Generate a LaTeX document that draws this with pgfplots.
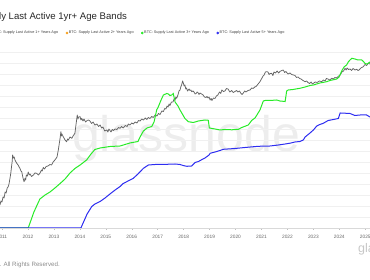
\documentclass[border=0pt]{standalone}
\usepackage{pgfplots}
\pgfplotsset{compat=1.18}
\usepackage{fontspec}
\setmainfont{Liberation Sans}
\definecolor{gnGreen}{RGB}{40,235,40}
\definecolor{gnBlue}{RGB}{45,45,240}
\definecolor{gnGray}{RGB}{100,100,100}
\definecolor{gnOrange}{RGB}{247,160,30}
\definecolor{gnFirst}{RGB}{120,120,120}
\begin{document}
\begin{tikzpicture}
% big watermark
\node[anchor=base, text=black!7, font=\fontsize{50}{50}\selectfont] at (186pt,128pt) {glassnode};
\begin{axis}[
  at={(0pt,52pt)}, anchor=south west,
  scale only axis, width=370pt, height=183pt,
  xmin=2010.923, xmax=2025.181, ymin=0, ymax=183,
  axis x line*=bottom, axis y line*=left,
  y axis line style={draw=none},
  x axis line style={draw=black!15},
  ytick={0,11,...,176}, yticklabels={}, ytick style={draw=none},
  ymajorgrids, grid style={draw=black!6, line width=0.5pt},
  xtick={2011,...,2025},
  /pgf/number format/1000 sep={},
  /pgf/number format/assume math mode=true,
  tick align=outside, major tick length=2pt,
  xtick style={draw=black!25, line width=0.4pt},
  xticklabel style={font=\fontsize{4.8}{5}\selectfont, text=black!60, yshift=-1.5pt},
  legend columns=-1,
  legend style={draw=none, fill=none, at={(-0.027,1.0656)}, anchor=west,
    font=\fontsize{3.8}{4}\selectfont, inner sep=0pt,
    nodes={inner sep=0.6pt, text=black!75},
    /tikz/every even column/.append style={column sep=6.8pt}},
  legend image code/.code={\fill[#1] (0.6pt,0pt) circle (1.1pt);},
]
\addlegendimage{gnFirst}
\addlegendentry{BTC: Supply Last Active 1+ Years Ago}
\addlegendimage{gnOrange}
\addlegendentry{BTC: Supply Last Active 2+ Years Ago}
\addlegendimage{gnGreen}
\addlegendentry{BTC: Supply Last Active 3+ Years Ago}
\addlegendimage{gnBlue}
\addlegendentry{BTC: Supply Last Active 5+ Years Ago}

% price (gray)
\addplot[forget plot, color=gnGray, line width=0.75pt, line join=round] coordinates {
(2010.92,23)(2010.96,27)(2011.00,26)(2011.04,31)(2011.08,30)(2011.12,36)(2011.16,35)(2011.20,40)(2011.24,41.3)
(2011.27,44)(2011.31,50)(2011.34,55)(2011.37,62)(2011.39,66)(2011.41,73)
(2011.44,70)(2011.47,71)(2011.50,68)(2011.54,66)(2011.57,64.7)(2011.62,63)(2011.66,61)(2011.69,59.7)(2011.73,57)(2011.76,56.3)(2011.81,50)
(2011.85,46.3)(2011.89,49.7)(2011.91,48)(2011.94,53)(2011.98,52)(2012.01,56)(2012.05,53)(2012.08,54)(2012.14,51.5)(2012.21,53)(2012.27,55)(2012.34,54.7)
(2012.40,53)(2012.46,54.7)(2012.52,58)(2012.55,57)(2012.59,60.5)(2012.64,59)(2012.70,61.5)(2012.77,62)(2012.85,63.5)(2012.91,63)(2012.97,66)(2013.04,68)
(2013.12,71)(2013.17,78)(2013.24,90)(2013.27,96.3)(2013.29,92)(2013.31,94)(2013.36,91.3)(2013.43,88)
(2013.49,86.3)(2013.53,89)(2013.56,88)(2013.62,91)(2013.69,89.7)(2013.74,92)(2013.81,94.7)(2013.85,103)(2013.90,113)
(2013.93,109)(2013.95,111)(2014.01,111.3)(2014.04,108)(2014.07,109.7)(2014.12,107)(2014.16,109)(2014.22,106)(2014.28,107.5)(2014.33,108)(2014.39,107)
(2014.45,104.5)(2014.51,106)(2014.58,103)(2014.66,104)(2014.72,101.5)(2014.78,103)(2014.84,100)(2014.89,101)(2014.96,97)(2015.04,98)(2015.08,96)(2015.12,99)(2015.20,96)
(2015.25,98.5)(2015.29,97.5)(2015.36,99)(2015.43,98.5)(2015.49,100.5)(2015.55,99.7)(2015.61,101.5)(2015.67,100)(2015.75,102.5)(2015.82,101.5)(2015.87,104)(2015.93,103)
(2016.00,105)(2016.06,104)(2016.13,106)(2016.20,105)(2016.26,107.5)(2016.32,107)(2016.39,109)(2016.45,108)(2016.52,110)(2016.58,108.5)(2016.64,110.5)(2016.70,109.5)
(2016.77,111.5)(2016.83,110.5)(2016.90,113)(2016.97,112)(2017.03,114.5)(2017.09,113.5)(2017.16,117)(2017.22,116.5)(2017.27,119.5)(2017.32,119)(2017.36,122)(2017.40,121)
(2017.44,124)(2017.47,122.5)(2017.53,126)(2017.59,126)(2017.63,129)(2017.67,128)(2017.70,131)(2017.73,129.7)(2017.78,133)(2017.82,137)(2017.86,138)
(2017.89,141)(2017.92,143)(2017.96,147)(2017.99,144.7)(2018.02,142)(2018.05,143)(2018.08,139)(2018.11,140)(2018.15,137)(2018.18,138)(2018.21,139)(2018.24,137.5)
(2018.28,138)(2018.31,136.3)(2018.36,137)(2018.40,136)(2018.44,134)(2018.48,134.5)(2018.52,136)(2018.55,135.5)(2018.59,133.5)(2018.63,135)(2018.69,134)(2018.75,133)
(2018.80,131)(2018.86,130.5)(2018.90,131.5)(2018.94,130)(2018.98,131)(2019.02,128)(2019.06,129.5)(2019.09,127.5)(2019.15,130)(2019.21,129.5)(2019.26,132)(2019.32,133)
(2019.38,136)(2019.43,134.5)(2019.47,138)(2019.53,136.5)(2019.59,137)(2019.65,139.5)(2019.71,139)(2019.78,136)(2019.85,137.5)(2019.91,135.5)(2019.98,136.5)(2020.04,137.5)(2020.09,136)
(2020.15,137)(2020.21,134.5)(2020.25,133.5)(2020.30,135)(2020.35,137)(2020.40,136)(2020.48,137.5)(2020.56,138)(2020.62,140)(2020.68,139.5)(2020.74,141)(2020.79,141.5)
(2020.87,144)(2020.94,146.3)(2021.02,150)(2021.06,152)(2021.10,153)(2021.15,156)(2021.20,156.3)(2021.25,156)
(2021.29,153.5)(2021.33,154.5)(2021.39,154.7)(2021.44,152.5)(2021.48,156)(2021.54,155)(2021.60,157)(2021.66,155)(2021.71,156.5)(2021.78,157.5)(2021.84,158)
(2021.89,155.5)(2021.94,156.5)(2022.02,154)(2022.10,155)(2022.16,153.5)(2022.23,153)(2022.29,152.5)(2022.35,150.5)(2022.41,151)(2022.47,149.5)(2022.52,149)
(2022.60,147.5)(2022.68,146.3)(2022.74,147)(2022.79,145.5)(2022.85,144.5)(2022.91,146)(2022.96,144)(2023.00,144.7)(2023.07,146)(2023.14,145.5)(2023.23,147)(2023.32,146.3)
(2023.38,148)(2023.45,147)(2023.50,149.5)(2023.56,149)(2023.63,148)(2023.71,149.7)(2023.77,149)(2023.83,150.5)(2023.89,150)(2023.95,151.5)(2024.03,153)
(2024.10,156)(2024.16,157)(2024.22,159.7)(2024.26,158)(2024.30,160)(2024.35,158.5)(2024.41,159)(2024.47,157.5)(2024.53,159.5)(2024.60,158)(2024.67,158.7)
(2024.72,157.5)(2024.76,158)(2024.83,160)(2024.92,161.3)(2024.99,163.5)(2025.05,162.5)(2025.12,164.7)(2025.18,164)
};

% 3+ years (green)
\addplot[forget plot, color=gnGreen, line width=1pt] coordinates {
(2010.92,0)(2012.01,0)(2012.23,16)(2012.46,29)(2012.66,33)(2012.85,36)(2013.04,40)
(2013.24,44.5)(2013.43,49)(2013.62,55)(2013.81,59.5)(2014.01,63)(2014.26,68)(2014.43,74)
(2014.58,78.5)(2014.78,80)(2015.16,81.5)(2015.55,82)(2015.93,85)(2016.24,86.5)(2016.32,91)
(2016.45,97)(2016.59,100)(2016.77,101.5)(2016.86,106)(2016.96,118)(2017.02,121)(2017.13,128)
(2017.22,133)(2017.35,134.5)(2017.41,134)(2017.47,132.5)(2017.54,133)(2017.60,134.5)
(2017.67,126)(2017.78,122)(2017.86,118)(2018.05,109.5)(2018.18,106.3)(2018.37,105.5)
(2018.57,107)(2018.82,108)(2018.95,107.7)(2018.99,100)(2019.21,99)(2019.40,98)(2019.59,98.5)
(2019.86,98.2)(2020.11,98.7)(2020.24,100.5)(2020.49,103)(2020.62,107.5)(2020.75,110)
(2020.87,115)(2020.94,118)(2021.07,127)(2021.14,127.5)(2021.33,127.5)(2021.59,128)
(2021.71,127)(2021.91,126.5)(2021.97,137)(2022.03,138)(2022.21,138.5)(2022.48,139.7)
(2022.68,141)(2022.87,142.5)(2023.00,143)(2023.25,145)(2023.51,146.3)(2023.64,147.5)
(2023.90,149)(2023.99,151)(2024.09,157)(2024.18,161)(2024.28,163)(2024.35,166.3)
(2024.41,168)(2024.48,169.7)(2024.60,169)(2024.72,168)(2024.86,168)(2024.91,167)
(2024.99,164.5)(2025.07,164)(2025.18,166)
};

% 5+ years (blue)
\addplot[forget plot, color=gnBlue, line width=1pt] coordinates {
(2010.92,0)(2014.04,0)(2014.16,7)(2014.28,14)(2014.46,21.5)(2014.58,24)(2014.78,26.5)
(2014.97,30)(2015.16,34)(2015.36,38)(2015.55,41.5)(2015.67,44.5)(2015.86,47)(2016.06,49.7)
(2016.24,54)(2016.45,59.7)(2016.64,63)(2016.90,63.5)(2017.35,63.7)(2017.67,64)(2017.86,63.5)
(2017.98,62.5)(2018.12,61.7)(2018.31,62)(2018.44,65.5)(2018.57,66.5)(2018.71,68.5)
(2018.82,70)(2018.89,71.3)(2018.98,73)(2019.02,74.7)(2019.21,76)(2019.40,77.5)(2019.53,78.7)
(2019.98,79.5)(2020.36,80.5)(2020.88,81.7)(2021.33,82)(2021.65,83)(2021.91,84)(2022.10,84.8)
(2022.29,86)(2022.48,86.5)(2022.61,88)(2022.68,91)(2022.87,95)(2023.00,98)(2023.13,102)
(2023.25,103.5)(2023.38,104.7)(2023.57,107.5)(2023.77,108.5)(2023.96,109.5)(2024.03,115)
(2024.28,114.7)(2024.41,114.5)(2024.60,112.5)(2024.80,113)(2025.05,113)(2025.18,111)
};
\end{axis}
% title
\node[anchor=base west, text=black!85, font=\fontsize{9.6}{11}\selectfont, inner sep=0pt] at (-48pt,260pt) {BTC: Supply Last Active 1yr+ Age Bands};
% footer
\node[anchor=base east, text=black!45, font=\fontsize{6.2}{7}\selectfont, inner sep=0pt] at (60pt,13pt) {© 2025 Glassnode. All Rights Reserved.};
\node[anchor=base west, text=black!22, font=\fontsize{12.5}{13}\selectfont, inner sep=0pt] at (358pt,27pt) {glassnode};
\pgfresetboundingbox
\useasboundingbox (0pt,0pt) rectangle (370pt,280pt);
\end{tikzpicture}
\end{document}
